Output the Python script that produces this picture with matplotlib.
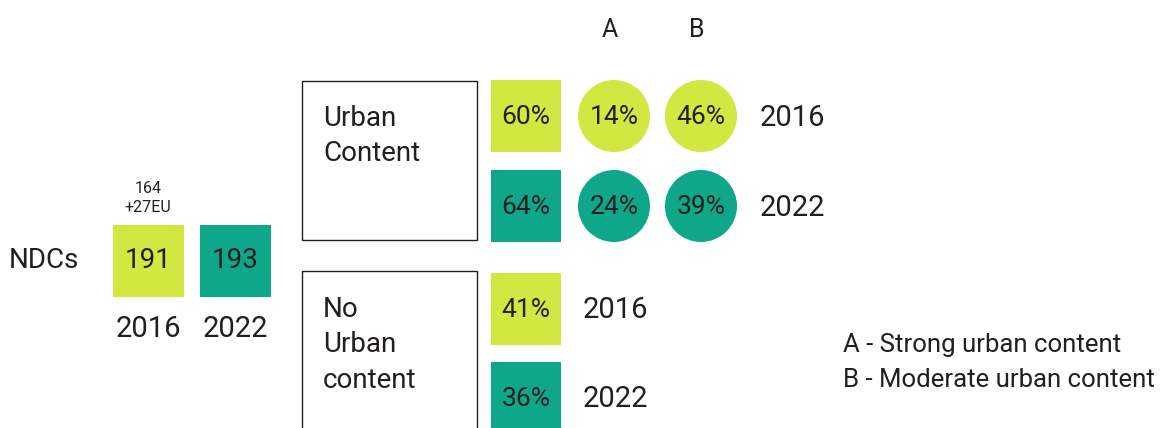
import matplotlib.pyplot as plt
from matplotlib.patches import Rectangle, Circle

# data
years = ['2016', '2022']
ndcs = [191, 193]
ndc_note = '164\n+27EU'
urban = [60, 64]          # NDCs with urban content (%)
strong = [14, 24]         # A - strong urban content (%)
moderate = [46, 39]       # B - moderate urban content (%)
no_urban = [41, 36]       # NDCs with no urban content (%)
legend_lines = ['A - Strong urban content', 'B - Moderate urban content']

colors = ['#d1e742', '#0ea78a']
txt = '#231f20'

plt.rcParams['font.family'] = ['Roboto', 'DejaVu Sans']

fig = plt.figure(figsize=(11.6, 4.28), dpi=100)
ax = fig.add_axes([0, 0, 1, 1])
ax.set_xlim(0, 1160)
ax.set_ylim(428, 0)
ax.axis('off')

big = 21
sq = 71

# NDC count squares
ax.text(44, 260, 'NDCs', fontsize=20, color=txt, ha='center', va='center')
for i, (yr, n) in enumerate(zip(years, ndcs)):
    x0 = 113 + i * 87
    ax.add_patch(Rectangle((x0, 225), sq, 72, color=colors[i], lw=0))
    ax.text(x0 + sq / 2, 261, str(n), fontsize=20, color=txt, ha='center', va='center')
    ax.text(x0 + sq / 2, 329, yr, fontsize=big, color=txt, ha='center', va='center')
ax.text(148, 198, ndc_note, fontsize=11.5, color=txt, ha='center', va='center',
        linespacing=1.3)

# category boxes
ax.add_patch(Rectangle((302, 81), 175, 159, fill=False, ec=txt, lw=1))
ax.text(323, 136, 'Urban\nContent', fontsize=20, color=txt, ha='left', va='center',
        linespacing=1.4)
ax.add_patch(Rectangle((302, 271), 175, 170, fill=False, ec=txt, lw=1))
ax.text(323, 345, 'No\nUrban\ncontent', fontsize=20, color=txt, ha='left', va='center',
        linespacing=1.4)

# column headers
ax.text(610, 30, 'A', fontsize=18, color=txt, ha='center', va='center')
ax.text(697, 30, 'B', fontsize=18, color=txt, ha='center', va='center')

# urban content rows
for i, yr in enumerate(years):
    yc = 116 + i * 90
    ax.add_patch(Rectangle((491, yc - 36), 70, 72, color=colors[i], lw=0))
    ax.text(526, yc + 1, f'{urban[i]}%', fontsize=19, color=txt, ha='center', va='center')
    for xc, v in ((614, strong[i]), (701, moderate[i])):
        ax.add_patch(Circle((xc, yc), 36, color=colors[i], lw=0))
        ax.text(xc, yc + 1, f'{v}%', fontsize=19, color=txt, ha='center', va='center')
    ax.text(792, yc + 2, yr, fontsize=big, color=txt, ha='center', va='center')

# no urban content rows
for i, yr in enumerate(years):
    yc = 309 + i * 89
    ax.add_patch(Rectangle((491, yc - 36), 70, 72, color=colors[i], lw=0))
    ax.text(526, yc + 1, f'{no_urban[i]}%', fontsize=19, color=txt, ha='center', va='center')
    ax.text(615, yc + 1, yr, fontsize=big, color=txt, ha='center', va='center')

# legend
for j, line in enumerate(legend_lines):
    ax.text(843, 345 + j * 35, line, fontsize=18.5, color=txt, ha='left', va='center')

fig.savefig('out.png', dpi=100)
